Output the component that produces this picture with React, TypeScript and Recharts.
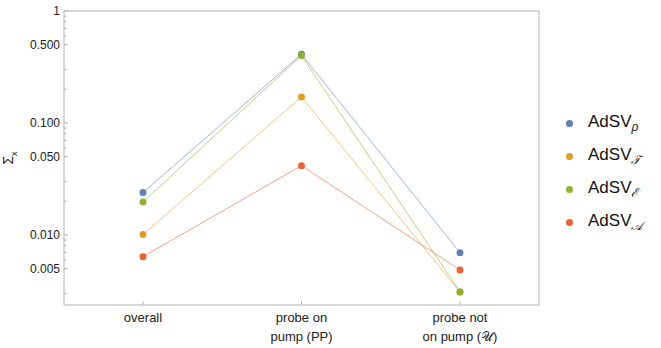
import React from "react";
import { LineChart, Line, XAxis, YAxis } from "recharts";

const categories = ["overall", "probe on\npump (PP)", "probe not\non pump (𝒰)"];
const rho = [0.0239, 0.41, 0.00695];
const tau = [0.0101, 0.171, 0.0031];
const eps = [0.0197, 0.40, 0.0031];
const aa = [0.0064, 0.0416, 0.00487];

const majorTicks = [1, 0.5, 0.1, 0.05, 0.01, 0.005];
const minorTicks = [0.9, 0.8, 0.7, 0.6, 0.3, 0.2, 0.09, 0.08, 0.07, 0.06, 0.03, 0.02, 0.009, 0.008, 0.007, 0.006, 0.003];
const tickLabels: Record<number, string> = { 1: "1", 0.5: "0.500", 0.1: "0.100", 0.05: "0.050", 0.01: "0.010", 0.005: "0.005" };

const series = [
  { key: "rho", name: "AdSV", sub: "ρ", color: "#5E81B5", values: rho },
  { key: "tau", name: "AdSV", sub: "𝒯", color: "#E19C24", values: tau },
  { key: "eps", name: "AdSV", sub: "ℰ", color: "#8FB032", values: eps },
  { key: "aa", name: "AdSV", sub: "𝒜", color: "#EB6235", values: aa },
];

const data = categories.map((c, i) => {
  const row: any = { cat: c };
  series.forEach((s) => (row[s.key] = s.values[i]));
  return row;
});

const FRAME = "#b3b3b3";
const TEXT = "#222";

const YTick = (props: any) => {
  const { x, y, payload } = props;
  const v = payload.value;
  const major = majorTicks.includes(v);
  return (
    <g>
      <line x1={x} x2={x + (major ? 4 : 2.5)} y1={y} y2={y} stroke={FRAME} strokeWidth={1} />
      {major && (
        <text x={x - 4} y={y + 4} textAnchor="end" fontSize={12} fill={TEXT}>
          {tickLabels[v]}
        </text>
      )}
    </g>
  );
};

const XTick = (props: any) => {
  const { x, y, payload } = props;
  const lines = String(payload.value).split("\n");
  return (
    <g>
      <line x1={x} x2={x} y1={y} y2={y - 4} stroke={FRAME} strokeWidth={1} />
      {lines.map((l, i) => (
        <text key={i} x={x} y={y + 17 + i * 19} textAnchor="middle" fontSize={13} fill={TEXT}>
          {l}
        </text>
      ))}
    </g>
  );
};

export default function App() {
  return (
    <div style={{ position: "absolute", left: 0, top: 0, width: 661, height: 348, background: "#fff", fontFamily: "'Liberation Sans', Arial, sans-serif" }}>
      <LineChart width={661} height={348} data={data} margin={{ top: 10, right: 121, bottom: 0, left: 63 }}>
        <XAxis
          dataKey="cat"
          height={43}
          padding={{ left: 79, right: 79 }}
          stroke={FRAME}
          tickLine={false}
          tickSize={0}
          tickMargin={0}
          tick={<XTick />}
          interval={0}
        />
        <XAxis xAxisId="top" orientation="top" dataKey="cat" height={1} stroke={FRAME} tick={false} tickLine={false} />
        <YAxis
          scale="log"
          domain={[0.00237, 1]}
          allowDataOverflow
          ticks={[...majorTicks, ...minorTicks]}
          width={1}
          stroke={FRAME}
          tickLine={false}
          tickSize={0}
          tickMargin={0}
          tick={<YTick />}
          interval={0}
        />
        <YAxis yAxisId="right" orientation="right" width={1} stroke={FRAME} tick={false} tickLine={false} />
        {series.map((s) => (
          <Line
            key={s.key}
            dataKey={s.key}
            stroke={s.color}
            strokeOpacity={0.6}
            strokeWidth={1}
            dot={{ r: 3.5, fill: s.color, stroke: "none" }}
            activeDot={false}
            isAnimationActive={false}
          />
        ))}
        <text transform="translate(13,158) rotate(-90)" textAnchor="middle" fontSize={14} fill={TEXT}>
          Σ<tspan dy={4} fontSize={9}>x</tspan>
        </text>
      </LineChart>
      <div style={{ position: "absolute", left: 566, top: 107 }}>
        {series.map((s) => (
          <div key={s.key} style={{ display: "flex", alignItems: "center", height: 33, fontSize: 17, color: "#111" }}>
            <span style={{ width: 7, height: 7, borderRadius: 4, background: s.color, display: "inline-block", marginRight: 15 }} />
            <span>
              {s.name}
              <sub style={{ fontSize: 12, fontStyle: "italic" }}>{s.sub}</sub>
            </span>
          </div>
        ))}
      </div>
    </div>
  );
}
